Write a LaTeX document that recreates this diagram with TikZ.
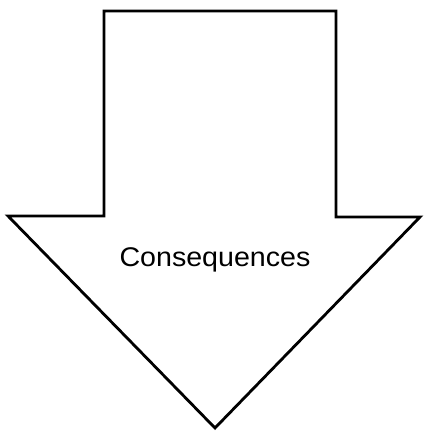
\documentclass[tikz,border=0pt]{standalone}
\usepackage{fontspec}
\setmainfont{Liberation Sans}
\usetikzlibrary{positioning}

\begin{document}
\begin{tikzpicture}[x=1pt, y=-1pt,
    outline/.style={draw, line width=2.8pt, line join=miter},
    label/.style={font=\fontsize{27}{31}\selectfont, anchor=base, xscale=1.06, transform shape}]
  \useasboundingbox (0,0) rectangle (423,433);
  % the arrow
  \coordinate (tl) at (104,11);
  \coordinate (tr) at (336,11);
  \coordinate (sr) at (336,217);
  \coordinate (hr) at (420,217);
  \coordinate (tip) at (215,428);
  \coordinate (hl) at (8,216);
  \coordinate (sl) at (104,216);
  \draw[outline] (tl) -- (tr) -- (sr) -- (hr) -- (tip) -- (hl) -- (sl) -- cycle;
  \node[label] (cons) at (215,266) {Consequences};
\end{tikzpicture}
\end{document}
